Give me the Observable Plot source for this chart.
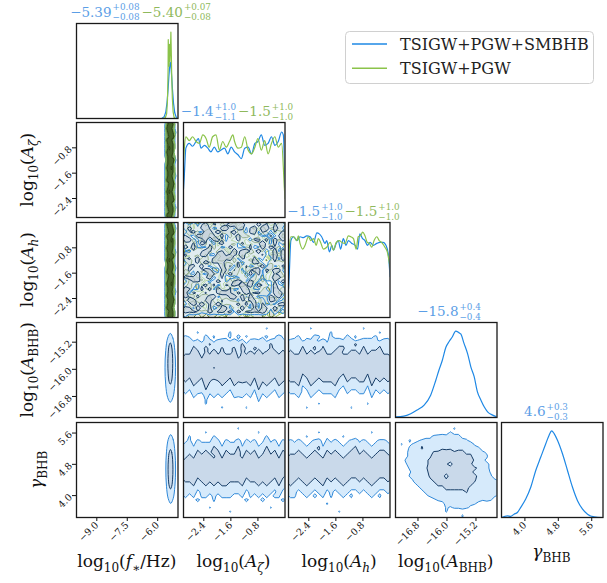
<!DOCTYPE html>
<html><head><meta charset="utf-8">
<script src="https://cdn.jsdelivr.net/npm/d3@7"></script>
<script src="https://cdn.jsdelivr.net/npm/@observablehq/plot@0.6"></script>
<style>
html,body{margin:0;padding:0;background:#fff}
#fig{position:relative;width:607px;height:583px;overflow:hidden;font-family:'DejaVu Serif',serif}
#fig .cell{position:absolute}
#overlay{position:absolute;left:0;top:0}
</style></head><body><div id="fig"></div>
<script>
// ================= DATA =================
const seriesNames = ["TSIGW+PGW+SMBHB", "TSIGW+PGW"];
const paramRanges = [[-10, -5], [-3, 0], [-3, 0], [-17.42, -14.62], [3.44, 5.87]];
const paramTicks = [[-9, -7.5, -6], [-2.4, -1.6, -0.8], [-2.4, -1.6, -0.8], [-16.8, -16.0, -15.2], [4.0, 4.8, 5.6]];

// summary titles: [median, +err, -err]
const titlesBlue = [["−5.39", "+0.08", "−0.08"], ["−1.4", "+1.0", "−1.1"], ["−1.5", "+1.0", "−1.0"], ["−15.8", "+0.4", "−0.4"], ["4.6", "+0.3", "−0.3"]];
const titlesGreen = [["−5.40", "+0.07", "−0.08"], ["−1.5", "+1.0", "−1.0"], ["−1.5", "+1.0", "−1.0"], null, null];

// 1D marginals: [value, relative density]
const margFstarBlue = [[-10,0],[-5.8,0],[-5.68,0.02],[-5.6,0.07],[-5.54,0.17],[-5.49,0.3],[-5.45,0.44],[-5.41,0.55],[-5.38,0.59],[-5.35,0.55],[-5.31,0.44],[-5.27,0.3],[-5.22,0.16],[-5.16,0.06],[-5.09,0.015],[-5,0]];
const margFstarGreen = [[-10,0],[-5.75,0],[-5.62,0.01],[-5.56,0.05],[-5.52,0.18],[-5.49,0.5],[-5.48,0.83],[-5.46,0.6],[-5.44,0.55],[-5.42,0.78],[-5.40,0.6],[-5.37,0.75],[-5.35,0.91],[-5.33,0.7],[-5.31,0.45],[-5.28,0.22],[-5.24,0.07],[-5.19,0.01],[-5.1,0],[-5,0]];
const margAzBlue = [[-3.0,0.3],[-2.98,0.41],[-2.93,0.73],[-2.83,0.78],[-2.73,0.75],[-2.63,0.80],[-2.56,0.83],[-2.48,0.73],[-2.38,0.76],[-2.28,0.73],[-2.19,0.69],[-2.09,0.74],[-1.99,0.69],[-1.89,0.71],[-1.79,0.73],[-1.69,0.67],[-1.59,0.74],[-1.49,0.69],[-1.39,0.66],[-1.29,0.62],[-1.19,0.73],[-1.09,0.74],[-0.99,0.67],[-0.89,0.78],[-0.80,0.80],[-0.70,0.87],[-0.60,0.76],[-0.50,0.78],[-0.40,0.85],[-0.30,0.76],[-0.20,0.80],[-0.10,0.90],[-0.05,0.87],[0.0,0.32]];
const margAzGreen = [[-3.0,0.6],[-2.98,0.71],[-2.93,0.85],[-2.83,0.81],[-2.73,0.85],[-2.63,0.80],[-2.53,0.78],[-2.43,0.87],[-2.33,0.83],[-2.24,0.74],[-2.14,0.85],[-2.04,0.87],[-1.94,0.71],[-1.84,0.80],[-1.74,0.74],[-1.64,0.80],[-1.54,0.87],[-1.49,0.80],[-1.39,0.73],[-1.29,0.74],[-1.19,0.85],[-1.09,0.71],[-0.99,0.67],[-0.89,0.74],[-0.80,0.83],[-0.70,0.71],[-0.60,0.81],[-0.50,0.67],[-0.40,0.78],[-0.30,0.85],[-0.20,0.74],[-0.10,0.78],[-0.02,0.32],[0.0,0.2]];
const margAhBlue = [[-3.0,0.3],[-2.98,0.43],[-2.93,0.81],[-2.85,0.85],[-2.75,0.81],[-2.66,0.85],[-2.56,0.84],[-2.46,0.86],[-2.36,0.85],[-2.26,0.79],[-2.16,0.89],[-2.09,0.88],[-2.02,0.85],[-1.92,0.78],[-1.87,0.81],[-1.79,0.69],[-1.72,0.76],[-1.67,0.71],[-1.59,0.78],[-1.53,0.81],[-1.46,0.72],[-1.38,0.83],[-1.30,0.76],[-1.23,0.81],[-1.13,0.78],[-1.03,0.76],[-0.96,0.72],[-0.89,0.88],[-0.81,0.83],[-0.74,0.81],[-0.67,0.76],[-0.59,0.79],[-0.49,0.76],[-0.39,0.78],[-0.30,0.79],[-0.20,0.79],[-0.12,0.76],[-0.05,0.67],[0.0,0.43]];
const margAhGreen = [[-3.0,0.55],[-2.98,0.71],[-2.93,0.85],[-2.85,0.85],[-2.75,0.81],[-2.71,0.86],[-2.66,0.78],[-2.58,0.72],[-2.51,0.76],[-2.41,0.85],[-2.34,0.81],[-2.26,0.83],[-2.18,0.76],[-2.12,0.83],[-2.05,0.79],[-1.97,0.72],[-1.87,0.74],[-1.77,0.79],[-1.67,0.71],[-1.59,0.79],[-1.50,0.81],[-1.42,0.79],[-1.33,0.78],[-1.23,0.86],[-1.16,0.85],[-1.08,0.83],[-1.00,0.72],[-0.94,0.85],[-0.87,0.86],[-0.81,0.90],[-0.74,0.86],[-0.67,0.79],[-0.61,0.78],[-0.54,0.74],[-0.47,0.81],[-0.39,0.85],[-0.32,0.81],[-0.25,0.79],[-0.15,0.74],[-0.08,0.69],[0.0,0.53]];
const margAbhbBlue = [[-17.42,0.007],[-17.19,0.014],[-17.00,0.04],[-16.82,0.08],[-16.63,0.13],[-16.45,0.235],[-16.31,0.39],[-16.22,0.50],[-16.13,0.60],[-16.03,0.74],[-15.94,0.80],[-15.85,0.85],[-15.76,0.91],[-15.66,0.89],[-15.62,0.88],[-15.53,0.78],[-15.43,0.67],[-15.34,0.53],[-15.25,0.43],[-15.16,0.27],[-15.06,0.18],[-14.97,0.11],[-14.88,0.06],[-14.74,0.025],[-14.62,0.007]];
const margGammaBlue = [[3.44,0],[3.58,0.018],[3.66,0.012],[3.74,0.035],[3.82,0.053],[3.90,0.106],[4.02,0.194],[4.14,0.318],[4.26,0.495],[4.38,0.636],[4.50,0.777],[4.58,0.866],[4.64,0.912],[4.70,0.883],[4.78,0.813],[4.90,0.671],[5.02,0.495],[5.14,0.318],[5.26,0.177],[5.38,0.088],[5.50,0.035],[5.66,0.007],[5.87,0]];

// 2D grids for f* columns (levels: 0 outside, 1 inside outer contour, 2 inside inner contour), rows top to bottom
const gridFzBlue = ["00112222221100","00122222211100","00112222221110","00111222222100","00122222211100","00112212221100","00112222221100","00122222221000","00112222211100","00011222222110","00112222221100","00122221221100","00112222221100","00112222211110","00122222221100","00111222222100","00112222221100","00122122211100","00112222221100","00112222222100","00122222211100","00112222221110","00111222221100","00122222211100"];
const gridFzGreen = ["00011222221100","00012222211000","00011222221100","00011122222100","00012222211000","00011222221100","00011212221100","00012222221000","00011222211100","00011222222100","00011222221000","00012222121100","00011222221100","00011222211100","00012222221000","00011122222100","00011222221100","00012212211000","00011222221100","00011222222100","00012222211000","00011222221100","00011122221100","00012222211000"];
const gridFhBlue = ["00122222211100","00112222221110","00112122221100","00122222211100","00111222222100","00112222221100","00122222221100","00112222211110","00112221221100","00122222211100","00011222222100","00112222221110","00122222211100","00112222221100","00111222122100","00122222221100","00112222211100","00112222221110","00122222211100","00111222222100","00112212221100","00122222221000","00112222211100","00112222221100"];
const gridFhGreen = ["00012222211000","00011222221100","00011122222100","00012222211000","00011222121100","00011222221100","00012222221000","00011222211100","00011222222100","00012212211000","00011222221000","00011222221100","00012222211000","00011122222100","00011222221100","00012222121100","00011222221000","00011222211100","00012222221000","00011222222100","00011222221100","00012222211000","00011122221100","00011222221100"];
// other 2D panels: binned density levels 0-9 on a 25-column grid (row-major, top row first)
const gridZhBlueDigits = "3141592653589793238462643383279502884197169399375105820974944592307816406286208998628034825342117067982148086513282306647093844609550582231725359408128481117450284102701938521105559644622948954930381964428810975665933446128475648233786783165271201909145648566923460348610454326648213393607260249141273724587006606315588174881520920962829254091715364367892590360011330530548820466521384146951941511609433057270365759591953092186117381932611793105118548074462379962749567351885752724891227938183011949129833673362440656643086021394946395224737190702179860943702770539217176293176752384674818467669405132";
const gridZhGreenDigits = "2718281828459045235360287471352662497757247093699959574966967627724076630353547594571382178525166427427466391932003059921817413596629043572900334295260595630738132328627943490763233829880753195251019011573834187930702154089149934884167509244761460668082264800168477411853742345442437107539077744992069551702761838606261331384583000752044933826560297606737113200709328709127443747047230696977209310141692836819025515108657463772111252389784425056953696770785449969967946864454905987931636889230098793127736178215424999229576351482208269895193668033182528869398496465105820939239829488416324071526085";
const gridZbBlue = ["0000000000000000000000000","0000000000000000000030000","0003000000130000000000000","3201041300230413100231242","3423143234324231343423333","4353446343354463544346453","4465374546456375465346545","5576465756547465657566656","6687576867678566768677867","7678687778789687879788778","8789798889878798988897889","7898879598987889797988798","8789788987879798988797878","7678697878768787869787687","6576586567657676758676576","5465475446546555647565465","4354364545435454536454354","3243353434324343425343243","2132142323213332314232132","1021031212102121203121021","0010030101001010102010010","0100000003000003000000100","0000000000000000000000000","0000000000000000000000000"];
const gridHbBlue = ["0000000000000000000000000","0000030000000000003000000","0000000001300000000000300","1230214302312041302123102","3342333242443334233433243","4435345453345534645344535","5546456364456645546455644","6557565675567556657566755","6668676786678667768677866","7779787897789778879788977","8878898988897889988899888","8987889897988798899788989","7896798786897687788697878","7785687677786576677586767","6674576566675465566475656","5563465455564354455364545","4452354344453243344253434","3342243233342132233142323","2231132122231021122031212","1120021011120010011020101","0010000300010000000300000","0000300000000003000000000","0000000000000000000000000","0000000000000000000000000"];
const gridZgBlue = ["0000000000000000000000000","0000000000000300000000000","0000030000000000003000000","0300100310002001000130010","2313212431322413231242313","3424343542433524342353424","4535454653544635453464535","5546565764655746564575646","5657676575766657675686757","6768787686877768786797868","7879898797988879897898979","8988989898899988998989888","8897898989988897889898797","7786787878877786778787686","6675676767766675667676575","5564565656655564556565464","4453454545544453445454353","3342343434433342334343242","3231332323332231323232331","2123221312221123212321223","1012110201110012101210112","0000003000000000000003000","0000000000030000000000000","0000000000000000000000000"];
const gridHgBlue = ["0000000000000000000000000","0000000000000000000000000","0000000300000000000030000","0010300002010300100002001","3232123413232123423212332","4343234524343234534323443","5454345635454345645434554","5565456546565456756545665","6676567657676567867656776","7787678768787678978767887","8898789879898789989878998","8989898988989898898989889","9878987897878987787898778","8767876786767876676787667","7656765675656765565676556","6545654564545654454565445","5434543453434543343454334","4323432342323432232343223","3312323231312323121232312","2201212120201212010121201","1100101013100101000010100","0000000000000000000000000","0000000000003000000000000","0000000000000000000000000"];
const gridBgBlue = ["0000000000000000000000000","0000000000000030000000000","0000000001020312010000000","0000000123434343210000000","0003123435443534331000000","0302345354435345435210000","0013436453454534543431000","0023454546678767655343200","0014345357686978766453300","0034543567878786797543210","0024354567896479786453320","0013453578978787897654320","0002434568787898786543420","0003453467874797979654330","0001345356786878787644343","0000234345678787876544534","0000023434547676765353443","0000012343434545463443534","0000001234343434343435343","0000000012334343435343430","0000000000123434343310000","0000000000003233432000000","0000000000003000000000000","0000000000000000300000000"];

// smooth 2D contours (closed outlines) for f* vs A_BHB and f* vs gamma
const fbOuter = [[-5.38,-14.94],[-5.25,-15.08],[-5.155,-15.45],[-5.12,-15.955],[-5.155,-16.46],[-5.25,-16.83],[-5.38,-16.97],[-5.51,-16.83],[-5.605,-16.46],[-5.64,-15.955],[-5.605,-15.45],[-5.51,-15.08]];
const fbInner = [[-5.38,-15.22],[-5.32,-15.30],[-5.276,-15.525],[-5.26,-15.83],[-5.276,-16.135],[-5.32,-16.36],[-5.38,-16.44],[-5.44,-16.36],[-5.484,-16.135],[-5.50,-15.83],[-5.484,-15.525],[-5.44,-15.30]];
const fgOuter = [[-5.36,5.56],[-5.24,5.44],[-5.152,5.12],[-5.12,4.68],[-5.152,4.24],[-5.24,3.92],[-5.36,3.80],[-5.48,3.92],[-5.568,4.24],[-5.60,4.68],[-5.568,5.12],[-5.48,5.44]];
const fgInner = [[-5.37,5.18],[-5.31,5.11],[-5.266,4.93],[-5.25,4.675],[-5.266,4.42],[-5.31,4.24],[-5.37,4.17],[-5.43,4.24],[-5.474,4.42],[-5.49,4.675],[-5.474,4.93],[-5.43,5.11]];
const fstarGridRange = [-5.75, -5.05];

// ================= LAYOUT / STYLE =================
const W = 101.5, H = 95;
const colX = [76, 182.7, 288.3, 395, 500.7];
const rowY = [22.5, 122.3, 222.2, 322.3, 422.3];
const titleCenters = [141.5, 238, 344.5, 450, 547];
const FONT = "DejaVu Serif";
const BLUE = "#1E88E5", GREEN = "#8BC34A";
const TBLUE = "#5b9ee6", TGREEN = "#8fb95c";
const ST = {
  blue: {outerFill: "#d6eafb", outerStroke: "#2f88d8", innerFill: "#c9d9ea", innerStroke: "#163c66"},
  blueMix: {outerFill: "#cfe3f4", outerStroke: "#2f88d8", innerFill: "#b9c6d4", innerStroke: "#163c66"},
  greenMix: {outerFill: "#dfe8d4", outerStroke: "#9cc555", innerFill: "#c6cfbc", innerStroke: "#5d7d2c"},
  blueDense: {outerFill: "#8fc0ea", outerStroke: "#2f88d8", innerFill: "#2d5f80", innerStroke: "#163c66"},
  greenDense: {outerFill: "#6e8f3a", outerStroke: "#8bc34a", innerFill: "#3d5a22", innerStroke: "#2c4516"}
};
const fmt = d3.format(".1f");
const LV01 = [0.5, 1.5], LVD = [2.5, 5.5], LVMIX = [1.5, 5.5];

const chunk = (s, n) => Array.from({length: Math.ceil(s.length / n)}, (_, k) => s.slice(k * n, k * n + n));

function gridMarks(rows, [x1, x2], [yTop, yBot], st, op = 1, levels = LV01) {
  const w = rows[0].length, h = rows.length;
  const values = rows.flatMap(r => [...r.padEnd(w, "0").slice(0, w)].map(Number));
  const base = {value: d => d, width: w, height: h, x1, x2, y1: yTop, y2: yBot, clip: true};
  return [
    Plot.contour(values, {...base, thresholds: [levels[0]], fill: st.outerFill, fillOpacity: op, stroke: st.outerStroke, strokeWidth: 1}),
    Plot.contour(values, {...base, thresholds: [levels[1]], fill: st.innerFill, fillOpacity: op, stroke: st.innerStroke, strokeWidth: 1})
  ];
}
function polyMarks(outer, inner, st) {
  const o = {x: d => d[0], y: d => d[1], curve: "catmull-rom-closed", strokeWidth: 1, clip: true};
  return [
    Plot.line(outer, {...o, fill: st.outerFill, stroke: st.outerStroke}),
    Plot.line(inner, {...o, fill: st.innerFill, stroke: st.innerStroke})
  ];
}
const yr = k => [paramRanges[k][1], paramRanges[k][0]];

const marg1dBlue = [margFstarBlue, margAzBlue, margAhBlue, margAbhbBlue, margGammaBlue];
const marg1dGreen = [margFstarGreen, margAzGreen, margAhGreen, null, null];

function twoD(i, j) {
  switch (`${i}${j}`) {
    case "10": return [...gridMarks(gridFzBlue, fstarGridRange, yr(1), ST.blueDense, 0.85), ...gridMarks(gridFzGreen, fstarGridRange, yr(1), ST.greenDense, 0.75)];
    case "20": return [...gridMarks(gridFhBlue, fstarGridRange, yr(2), ST.blueDense, 0.85), ...gridMarks(gridFhGreen, fstarGridRange, yr(2), ST.greenDense, 0.75)];
    case "21": return [
      ...gridMarks(chunk(gridZhGreenDigits, 25), paramRanges[1], yr(2), ST.greenMix, 0.45, LVMIX),
      ...gridMarks(chunk(gridZhBlueDigits, 25), paramRanges[1], yr(2), ST.blueMix, 0.5, LVMIX)];
    case "30": return polyMarks(fbOuter, fbInner, ST.blue);
    case "40": return polyMarks(fgOuter, fgInner, ST.blue);
    case "31": return gridMarks(gridZbBlue, paramRanges[1], yr(3), ST.blue, 1, LVD);
    case "32": return gridMarks(gridHbBlue, paramRanges[2], yr(3), ST.blue, 1, LVD);
    case "41": return gridMarks(gridZgBlue, paramRanges[1], yr(4), ST.blue, 1, LVD);
    case "42": return gridMarks(gridHgBlue, paramRanges[2], yr(4), ST.blue, 1, LVD);
    case "43": return gridMarks(gridBgBlue, paramRanges[3], yr(4), ST.blue, 1, LVD);
  }
  return [];
}

const fig = document.getElementById("fig");
for (let i = 0; i < 5; i++) for (let j = 0; j <= i; j++) {
  const hasY = j === 0 && i > 0, hasX = i === 4;
  const mL = hasY ? 60 : 0, mB = hasX ? 45 : 0;
  const marks = [];
  if (i === j) {
    const curve = i === 0 ? "linear" : "monotone-x";
    marks.push(Plot.line(marg1dBlue[i], {x: d => d[0], y: d => d[1], stroke: BLUE, strokeWidth: 1.2, curve, clip: true}));
    if (marg1dGreen[i]) marks.push(Plot.line(marg1dGreen[i], {x: d => d[0], y: d => d[1], stroke: GREEN, strokeWidth: 1.2, curve, clip: true}));
  } else {
    marks.push(...twoD(i, j));
  }
  if (hasY) marks.push(Plot.axisY({ticks: paramTicks[i], tickFormat: fmt, tickSize: 4, tickPadding: 2, tickRotate: -45, label: null, fontSize: 9.5}));
  if (hasX) marks.push(Plot.axisX({ticks: paramTicks[j], tickFormat: fmt, tickSize: 4, tickPadding: 2, tickRotate: -45, label: null, fontSize: 9.5}));
  marks.push(Plot.frame({stroke: "#1a1a1a", strokeWidth: 1.3}));
  const plot = Plot.plot({
    width: W + mL, height: H + mB,
    marginLeft: mL, marginRight: 0, marginTop: 0, marginBottom: mB,
    x: {domain: paramRanges[j], ...(hasX ? {} : {axis: null})},
    y: {domain: i === j ? [0, 1] : paramRanges[i], ...(hasY ? {} : {axis: null})},
    style: {fontFamily: FONT, fontSize: "9.5px", background: "transparent", overflow: "visible", color: "#111"},
    marks
  });
  const div = document.createElement("div");
  div.className = "cell";
  div.style.left = (colX[j] - mL) + "px";
  div.style.top = rowY[i] + "px";
  div.appendChild(plot);
  fig.appendChild(div);
}

// ================= overlay: titles, labels, legend =================
const svg = d3.select(fig).append("svg").attr("id", "overlay").attr("width", 607).attr("height", 583).style("font-family", FONT);

function drawTitle(cx, baseY, parts) {
  const g = svg.append("g");
  let x = 0;
  for (const [p, color] of parts) {
    const [main, sup, sub] = p;
    const t = g.append("text").attr("x", x).attr("y", baseY).attr("fill", color).attr("font-size", 13.5).text(main);
    const w = t.node().getComputedTextLength();
    const a = g.append("text").attr("x", x + w + 1).attr("y", baseY - 6.5).attr("fill", color).attr("font-size", 8.8).text(sup);
    const b = g.append("text").attr("x", x + w + 1).attr("y", baseY + 3.5).attr("fill", color).attr("font-size", 8.8).text(sub);
    x += w + 1 + Math.max(a.node().getComputedTextLength(), b.node().getComputedTextLength()) + 2;
  }
  g.attr("transform", `translate(${cx - x / 2},0)`);
}
for (let k = 0; k < 5; k++) {
  const parts = [[titlesBlue[k], TBLUE]];
  if (titlesGreen[k]) parts.push([titlesGreen[k], TGREEN]);
  drawTitle(titleCenters[k], rowY[k] - 6, parts);
}

// axis labels: list of [text, style] segments
const axisLabels = [
  [["log", ""], ["10", "sub"], ["(", ""], ["f", "it"], ["∗", "sub"], ["/Hz)", ""]],
  [["log", ""], ["10", "sub"], ["(", ""], ["A", "it"], ["ζ", "subit"], [")", ""]],
  [["log", ""], ["10", "sub"], ["(", ""], ["A", "it"], ["h", "subit"], [")", ""]],
  [["log", ""], ["10", "sub"], ["(", ""], ["A", "it"], ["BHB", "sub"], [")", ""]],
  [["γ", "it"], ["BHB", "sub"]]
];
function drawLabel(segs, transform) {
  const t = svg.append("text").attr("transform", transform).attr("text-anchor", "middle").attr("font-size", 17).attr("fill", "#111");
  let shifted = false;
  for (const [s, kind] of segs) {
    const isSub = kind.startsWith("sub");
    const ts = t.append("tspan").text(s);
    if (isSub && !shifted) { ts.attr("dy", 5); shifted = true; }
    if (!isSub && shifted) { ts.attr("dy", -5); shifted = false; }
    if (isSub) ts.attr("font-size", 12);
    if (kind.endsWith("it")) ts.attr("font-style", "italic");
  }
}
for (let k = 0; k < 5; k++) {
  const cx = colX[k] + W / 2;
  const by = k === 4 ? 557 : 567;
  drawLabel(axisLabels[k], `translate(${cx},${by})`);
}
for (let k = 1; k < 5; k++) {
  const cy = rowY[k] + H / 2;
  const bx = k === 4 ? 42 : 33;
  drawLabel(axisLabels[k], `translate(${bx},${cy}) rotate(-90)`);
}

// legend
const lg = svg.append("g");
lg.append("rect").attr("x", 345.5).attr("y", 31.5).attr("width", 248).attr("height", 52).attr("rx", 4).attr("fill", "#fff").attr("stroke", "#d0d0d0");
[[seriesNames[0], BLUE, 44], [seriesNames[1], GREEN, 68.3]].forEach(([name, c, y]) => {
  lg.append("line").attr("x1", 352).attr("x2", 387).attr("y1", y).attr("y2", y).attr("stroke", c).attr("stroke-width", 1.6);
  lg.append("text").attr("x", 400).attr("y", y + 5.5).attr("font-size", 16).attr("fill", "#222").text(name);
});
</script></body></html>
